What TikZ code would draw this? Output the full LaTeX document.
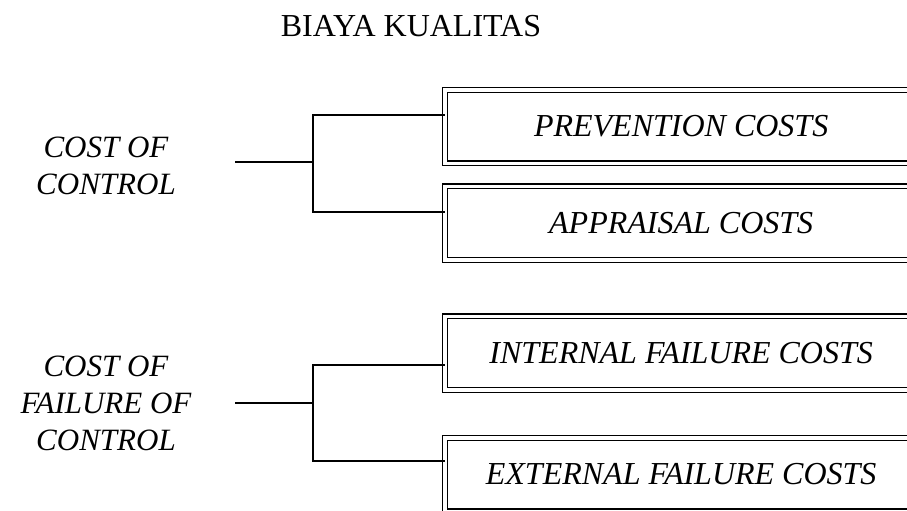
\documentclass[tikz,border=0pt]{standalone}
\usepackage{fontspec}
\setmainfont{Liberation Serif}
\usetikzlibrary{calc,positioning}

\tikzset{
  costbox/.style={draw, double, double distance=3.5pt, line width=1.3pt,
    inner sep=0pt, anchor=west, minimum width=472pt, minimum height=73.5pt,
    font=\fontsize{32}{38}\selectfont\itshape},
  group/.style={align=center, font=\fontsize{31}{37}\selectfont\itshape},
  link/.style={line width=1.6pt}
}

\begin{document}
\begin{tikzpicture}[x=1pt,y=-1pt]
        \useasboundingbox (0,0) rectangle (907,511);
        \clip (0,0) rectangle (907,511);

        \node[font=\fontsize{32}{38}\selectfont] (title) at (411,26) {BIAYA KUALITAS};

        \node[costbox] (prev) at (444.5,126.5) {PREVENTION COSTS};
        \node[costbox] (appr) at (444.5,223) {APPRAISAL COSTS};
        \node[costbox] (intl) at (444.5,353) {INTERNAL FAILURE COSTS};
        \node[costbox] (extl) at (444.5,474.5) {EXTERNAL FAILURE COSTS};

        \node[group] (coc) at (106,166) {COST OF\\CONTROL};
        \node[group] (cofc) at (106,403) {COST OF\\FAILURE OF\\CONTROL};

        \coordinate (s1) at (235,162);
        \coordinate (t1) at (313,115);
        \coordinate (t2) at (313,212);
        \coordinate (s2) at (235,403);
        \coordinate (t3) at (313,365);
        \coordinate (t4) at (313,461);

        \draw[link] (s1) -- (s1 -| t1);
        \draw[link] (prev.west |- t1) -- (t1) -- (t2) -- (appr.west |- t2);
        \draw[link] (s2) -- (s2 -| t3);
        \draw[link] (intl.west |- t3) -- (t3) -- (t4) -- (extl.west |- t4);
    \end{tikzpicture}
\end{document}
